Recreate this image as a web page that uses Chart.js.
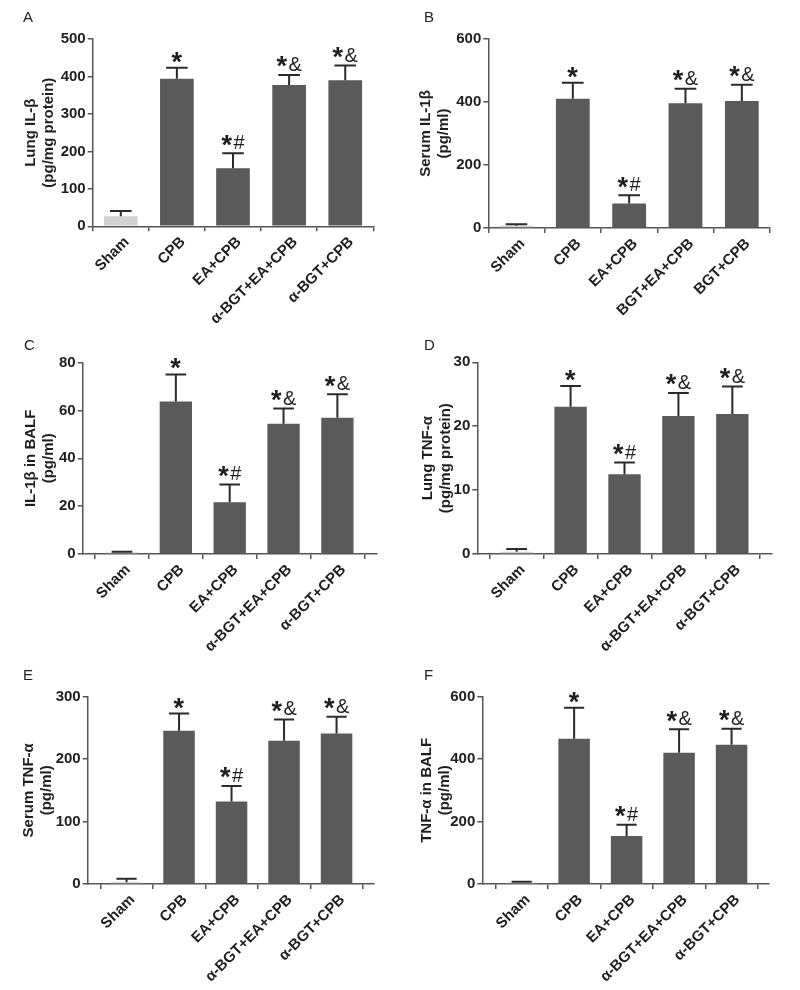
<!DOCTYPE html>
<html><head><meta charset="utf-8">
<script src="https://cdn.jsdelivr.net/npm/chart.js@4/dist/chart.umd.min.js"></script>
<style>
html,body{margin:0;padding:0;background:#fff;}
#wrap{position:relative;width:800px;height:990px;overflow:hidden;}
.panel{position:absolute;width:400px;height:330px;}
.letter{position:absolute;font:15px "Liberation Sans",Arial,sans-serif;line-height:15px;color:#222;}
</style></head><body><div id="wrap"></div>
<script>
// ---------- data ----------
const groups = ['Sham', 'CPB', 'EA+CPB', 'α-BGT+EA+CPB', 'α-BGT+CPB'];
const groupsB = ['Sham', 'CPB', 'EA+CPB', 'BGT+EA+CPB', 'BGT+CPB'];
const marks = ['', '*', '*#', '*&', '*&'];

const lungIL1b = [27, 394, 155, 377, 390];
const lungIL1bSem = [14, 29, 40, 27, 39];

const serumIL1b = [7, 410, 78, 396, 403];
const serumIL1bSem = [5, 51, 26, 46, 52];

const balfIL1b = [0.6, 63.8, 21.6, 54.5, 57.0];
const balfIL1bSem = [0.3, 11.3, 7.5, 6.3, 9.8];

const lungTNFa = [0.35, 23.05, 12.5, 21.6, 21.9];
const lungTNFaSem = [0.45, 3.25, 1.8, 3.6, 4.3];

const serumTNFa = [2.7, 245.5, 132, 229.5, 241];
const serumTNFaSem = [5.8, 27.5, 25, 34, 27];

const balfTNFa = [5, 465.5, 154, 420.6, 446];
const balfTNFaSem = [2, 99.5, 36, 75, 51.5];

const yTitles = {
  A: ['Lung IL-β', '(pg/mg protein)'],
  B: ['Serum IL-1β', '(pg/ml)'],
  C: ['IL-1β in BALF', '(pg/ml)'],
  D: ['Lung TNF-α', '(pg/mg protein)'],
  E: ['Serum TNF-α', '(pg/ml)'],
  F: ['TNF-α in BALF', '(pg/ml)']
};
const yMaxes = {A: 500, B: 600, C: 80, D: 30, E: 300, F: 600};
const ySteps = {A: 100, B: 200, C: 20, D: 10, E: 100, F: 200};

// ---------- layout / style ----------
const FONT = '"Liberation Sans", Arial, Helvetica, sans-serif';
const BAR = '#5a5a5a';
const SHAM = '#d2d2d2';
const AX = '#555555';
const TXT = '#1e1e1e';
const ERR = '#2a2a2a';

const panels = [
  {id:'A', left:0,   top:0,   L:92.7, R:373.3, T:39,   B:226.3, xmin:-0.5,  xmax:4.5,  tx:31, lx:23,  ly:9,   cats:groups,  vals:lungIL1b,  sem:lungIL1bSem},
  {id:'B', left:400, top:0,   L:88.3, R:370,   T:39,   B:228,   xmin:-0.5,  xmax:4.5,  tx:26, lx:24,  ly:9,   cats:groupsB, vals:serumIL1b, sem:serumIL1bSem},
  {id:'C', left:0,   top:330, L:82.7, R:376.7, T:32.7, B:224,   xmin:-0.73, xmax:4.73, tx:31, lx:24,  ly:7,   cats:groups,  vals:balfIL1b,  sem:balfIL1bSem},
  {id:'D', left:400, top:330, L:77.3, R:371.7, T:32.3, B:224,   xmin:-0.73, xmax:4.73, tx:27.5, lx:24, ly:7,  cats:groups,  vals:lungTNFa,  sem:lungTNFaSem},
  {id:'E', left:0,   top:660, L:87.7, R:373.3, T:36.7, B:224,   xmin:-0.74, xmax:4.70, tx:29, lx:23,  ly:7,   cats:groups,  vals:serumTNFa, sem:serumTNFaSem},
  {id:'F', left:400, top:660, L:82.3, R:368.3, T:36.7, B:224,   xmin:-0.75, xmax:4.70, tx:27, lx:24,  ly:7,   cats:groups,  vals:balfTNFa,  sem:balfTNFaSem}
];

const errPlugin = {
  id: 'errbars',
  afterDatasetsDraw(chart, args, opts) {
    const ctx = chart.ctx;
    const y = chart.scales.y;
    const meta = chart.getDatasetMeta(0);
    const sem = opts.sem, vals = opts.vals;
    ctx.save();
    ctx.strokeStyle = ERR;
    ctx.lineWidth = 2;
    meta.data.forEach((el, i) => {
      const x = el.x;
      const yTop = y.getPixelForValue(vals[i]);
      const yErr = y.getPixelForValue(vals[i] + sem[i]);
      const cw = el.width * 0.64;
      ctx.beginPath();
      ctx.moveTo(x, yTop);
      ctx.lineTo(x, yErr);
      ctx.moveTo(x - cw / 2, yErr);
      ctx.lineTo(x + cw / 2, yErr);
      ctx.stroke();
      const m = marks[i];
      if (m) {
        ctx.fillStyle = TXT;
        ctx.textBaseline = 'alphabetic';
        ctx.textAlign = 'left';
        const starFont = 'bold 27px ' + FONT;
        const restFont = '20px ' + FONT;
        ctx.font = starFont;
        const sm = ctx.measureText('*');
        const inkL = sm.actualBoundingBoxLeft, inkR = sm.actualBoundingBoxRight;
        const inkW = inkL + inkR;
        const starBottom = -sm.actualBoundingBoxDescent;
        ctx.font = restFont;
        const rest = m.slice(1);
        const wr = rest ? ctx.measureText(rest).width : 0;
        const gap = rest ? 1 : 0;
        const total = inkW + gap + wr;
        const sx = x - total / 2;
        ctx.font = starFont;
        ctx.fillText('*', sx + inkL, yErr - (rest ? 7.5 : 5) + starBottom);
        if (rest) {
          ctx.font = restFont;
          ctx.fillText(rest, sx + inkW + gap, yErr - 4);
        }
      }
    });
    ctx.restore();
  }
};

const wrap = document.getElementById('wrap');
panels.forEach(p => {
  const div = document.createElement('div');
  div.className = 'panel';
  div.style.left = p.left + 'px';
  div.style.top = p.top + 'px';
  const cv = document.createElement('canvas');
  cv.width = 400; cv.height = 330;
  cv.style.width = '400px'; cv.style.height = '330px';
  div.appendChild(cv);
  const lt = document.createElement('div');
  lt.className = 'letter';
  lt.textContent = p.id;
  lt.style.left = p.lx + 'px';
  lt.style.top = p.ly + 'px';
  div.appendChild(lt);
  wrap.appendChild(div);

  const tickFont = {family: FONT, size: 15, weight: 'bold'};
  new Chart(cv, {
    type: 'bar',
    data: {
      datasets: [{
        data: p.vals.map((v, i) => ({x: i, y: v})),
        backgroundColor: p.vals.map((v, i) => i === 0 ? SHAM : BAR),
        borderWidth: 0,
        barPercentage: 0.6,
        categoryPercentage: 1
      }]
    },
    options: {
      responsive: false,
      animation: false,
      devicePixelRatio: 1,
      layout: {padding: {top: p.T, right: 400 - p.R, left: 0, bottom: 0}},
      plugins: {legend: {display: false}, tooltip: {enabled: false}, errbars: {vals: p.vals, sem: p.sem}},
      scales: {
        x: {
          type: 'linear', min: p.xmin, max: p.xmax, offset: false,
          grid: {display: true, drawOnChartArea: false, drawTicks: true, tickLength: 5, color: AX, lineWidth: 1.5},
          border: {color: AX, width: 1.5},
          ticks: {autoSkip: false, minRotation: 45, maxRotation: 45, padding: 2, labelOffset: 6,
                  font: tickFont, color: TXT,
                  callback: (v) => p.cats[v] !== undefined ? p.cats[v] : ''},
          afterBuildTicks(s) { s.ticks = p.cats.map((c, i) => ({value: i})); },
          afterFit(s) { s.height = 330 - p.B; s.paddingLeft = 0; s.paddingRight = 0; }
        },
        y: {
          min: 0, max: yMaxes[p.id],
          grid: {display: true, drawOnChartArea: false, drawTicks: true, tickLength: 5, color: AX, lineWidth: 1.5},
          border: {color: AX, width: 1.5},
          ticks: {stepSize: ySteps[p.id], font: tickFont, color: TXT, padding: 2},
          title: {display: true, text: yTitles[p.id], color: TXT,
                  font: {family: FONT, size: 15, weight: 'bold', lineHeight: 1.2},
                  padding: {top: p.tx - 9, bottom: 0}},
          afterFit(s) { s.width = p.L; s.paddingTop = 0; s.paddingBottom = 0; }
        }
      }
    },
    plugins: [errPlugin]
  });
});
</script>
</body></html>
